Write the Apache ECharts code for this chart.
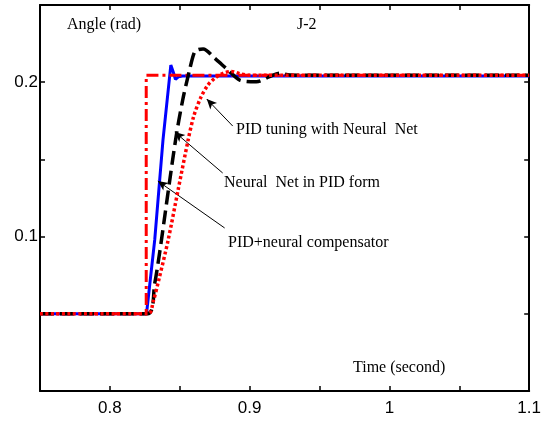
<!DOCTYPE html>
<html>
<head>
<meta charset="utf-8">
<script src="https://cdn.jsdelivr.net/npm/echarts@6/dist/echarts.min.js"></script>
<style>
html,body{margin:0;padding:0;background:#fff;}
#chart{width:544px;height:421px;}
</style>
</head>
<body>
<div id="chart"></div>
<script>
// ---- data ----
const refTime = [0.75, 0.826, 0.826, 1.1];
const refAngle = [0.05, 0.05, 0.2045, 0.2045];

const compTime = [0.75, 0.8262, 0.8321, 0.838, 0.8436, 0.8452, 0.8469, 0.849, 0.852, 1.1];
const compAngle = [0.05, 0.05, 0.098, 0.1626, 0.2111, 0.207, 0.2019, 0.2035, 0.204, 0.204];

const pidFormTime = [0.75, 0.8269, 0.8321, 0.8357, 0.8369, 0.847, 0.852, 0.857, 0.8607, 0.8635, 0.8667, 0.875, 0.8845, 0.8929, 0.9048, 0.9143, 0.9214, 0.9286, 0.94, 1.1];
const pidFormAngle = [0.05, 0.05, 0.0698, 0.0902, 0.0978, 0.1626, 0.188, 0.2079, 0.2198, 0.2212, 0.2215, 0.2155, 0.2079, 0.2014, 0.2003, 0.2036, 0.2058, 0.2047, 0.2045, 0.2045];

const tuningTime = [0.75, 0.8274, 0.831, 0.835, 0.8417, 0.8488, 0.856, 0.86, 0.865, 0.87, 0.875, 0.881, 0.887, 0.893, 0.9, 0.91, 1.1];
const tuningAngle = [0.05, 0.05, 0.058, 0.072, 0.0978, 0.1302, 0.1626, 0.178, 0.19, 0.198, 0.2025, 0.2058, 0.207, 0.2055, 0.2045, 0.2045, 0.2045];

// annotation arrows: [fromTime, fromAngle, toTime, toAngle]
const arrowTuning = [0.8879, 0.1716, 0.8693, 0.1891];
const arrowPidForm = [0.8807, 0.1412, 0.8464, 0.1677];
const arrowComp = [0.8821, 0.1056, 0.8343, 0.136];

const xTickLabels = ['0.8', '0.9', '1', '1.1'];
const yTickLabels = ['0.1', '0.2'];

function zip(a, b) { return a.map((v, i) => [v, b[i]]); }
function arrowLine(a) {
  return [{ coord: [a[0], a[1]], symbol: 'none' }, { coord: [a[2], a[3]], symbol: 'arrow' }];
}
function fmt(v) { return (Math.round(v * 1000) / 1000).toString(); }

const axisLineStyle = { color: '#000', width: 2 };
const tickStyle = { show: true, inside: true, length: 5, lineStyle: { color: '#000', width: 1.5 } };

const chart = echarts.init(document.getElementById('chart'), null, { renderer: 'canvas' });
const serif = '16px "Liberation Serif", "Times New Roman", serif';

chart.setOption({
  animation: false,
  backgroundColor: '#fff',
  grid: { left: 40, right: 14, top: 5, bottom: 30, containLabel: false },
  xAxis: [
    {
      type: 'value', min: 0.75, max: 1.1, interval: 0.05, position: 'bottom',
      axisLine: { show: true, lineStyle: axisLineStyle, onZero: false },
      axisTick: tickStyle,
      splitLine: { show: false },
      axisLabel: {
        show: true, margin: 9, color: '#000', fontSize: 17,
        fontFamily: '"Liberation Sans", Arial, sans-serif',
        showMinLabel: true, showMaxLabel: true,
        formatter: v => { const s = fmt(v); return xTickLabels.indexOf(s) >= 0 ? s : ''; }
      }
    },
    {
      type: 'value', min: 0.75, max: 1.1, interval: 0.05, position: 'top',
      axisLine: { show: true, lineStyle: axisLineStyle, onZero: false },
      axisTick: tickStyle, axisLabel: { show: false }, splitLine: { show: false }
    }
  ],
  yAxis: [
    {
      type: 'value', min: 0, max: 0.25, interval: 0.05, position: 'left',
      axisLine: { show: true, lineStyle: axisLineStyle, onZero: false },
      axisTick: tickStyle,
      splitLine: { show: false },
      axisLabel: {
        show: true, margin: 2, color: '#000', fontSize: 17,
        fontFamily: '"Liberation Sans", Arial, sans-serif',
        formatter: v => { const s = fmt(v); return yTickLabels.indexOf(s) >= 0 ? s : ''; }
      }
    },
    {
      type: 'value', min: 0, max: 0.25, interval: 0.05, position: 'right',
      axisLine: { show: true, lineStyle: axisLineStyle, onZero: false },
      axisTick: tickStyle, axisLabel: { show: false }, splitLine: { show: false }
    }
  ],
  series: [
    {
      name: 'PID+neural compensator', type: 'line', data: zip(compTime, compAngle),
      showSymbol: false, symbol: 'none', smooth: false,
      lineStyle: { color: '#0000ff', width: 3, type: 'solid' }, z: 2
    },
    {
      name: 'Reference', type: 'line', data: zip(refTime, refAngle),
      showSymbol: false, symbol: 'none', smooth: false,
      lineStyle: { color: '#ff0000', width: 3, type: [12, 4, 3, 4] }, z: 3
    },
    {
      name: 'Neural Net in PID form', type: 'line', data: zip(pidFormTime, pidFormAngle),
      showSymbol: false, symbol: 'none', smooth: 0.3,
      lineStyle: { color: '#000000', width: 3.5, type: [14, 6] }, z: 4
    },
    {
      name: 'PID tuning with Neural Net', type: 'line', data: zip(tuningTime, tuningAngle),
      showSymbol: false, symbol: 'none', smooth: 0.3,
      lineStyle: { color: '#ff0000', width: 3.5, type: [3, 2.5] }, z: 5
    },
    {
      name: 'annotations', type: 'line', data: [], z: 6,
      markLine: {
        silent: true, animation: false,
        symbolSize: [7, 10],
        label: { show: false },
        lineStyle: { color: '#000', width: 1, type: 'solid' },
        data: [arrowLine(arrowTuning), arrowLine(arrowPidForm), arrowLine(arrowComp)]
      }
    }
  ],
  graphic: [
    { type: 'text', left: 67, top: 17, style: { text: 'Angle (rad)', font: serif, fill: '#000' } },
    { type: 'text', left: 297, top: 17, style: { text: 'J-2', font: serif, fill: '#000' } },
    { type: 'text', left: 236, top: 122, style: { text: 'PID tuning with Neural  Net', font: serif, fill: '#000' } },
    { type: 'text', left: 224, top: 175, style: { text: 'Neural  Net in PID form', font: serif, fill: '#000' } },
    { type: 'text', left: 228, top: 235, style: { text: 'PID+neural compensator', font: serif, fill: '#000' } },
    { type: 'text', left: 353, top: 360, style: { text: 'Time (second)', font: serif, fill: '#000' } }
  ]
});
</script>
</body>
</html>
